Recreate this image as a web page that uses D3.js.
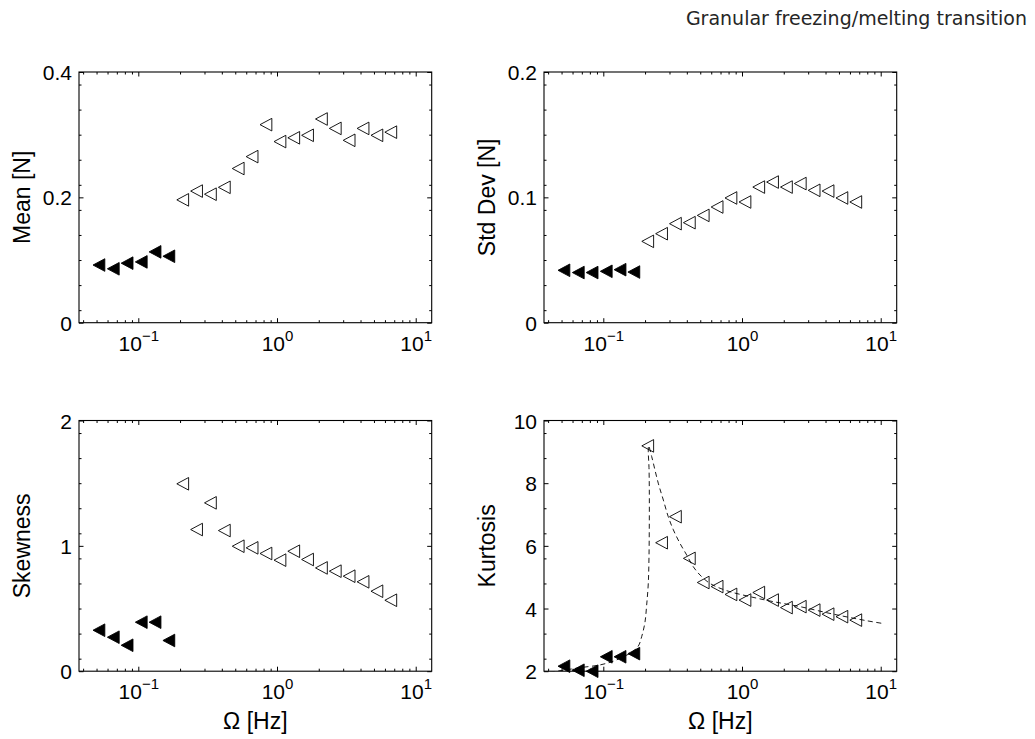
<!DOCTYPE html>
<html>
<head>
<meta charset="utf-8">
<script src="https://cdn.jsdelivr.net/npm/d3@7"></script>
<style>
body { margin: 0; background: #fff; }
text { font-family: "Liberation Sans", Arial, Helvetica, sans-serif; fill: #000; }
</style>
</head>
<body>
<svg id="chart" width="1035" height="739"></svg>
<script>
// driving frequency (Hz), first frozenCount points are the "frozen" (filled) ones
var freq = [0.052, 0.066, 0.083, 0.105, 0.132, 0.166, 0.209, 0.263, 0.331, 0.417, 0.525,
            0.661, 0.832, 1.05, 1.32, 1.66, 2.09, 2.63, 3.31, 4.17, 5.25, 6.61];
var frozenCount = 6;

var meanN = [0.092, 0.086, 0.095, 0.097, 0.113, 0.106, 0.196, 0.210, 0.205, 0.216, 0.246,
             0.265, 0.316, 0.289, 0.295, 0.299, 0.325, 0.310, 0.291, 0.310, 0.299, 0.304];
var stdN = [0.0418, 0.0400, 0.0400, 0.0410, 0.0423, 0.0404, 0.0649, 0.0710, 0.0790, 0.0798, 0.0856,
            0.0923, 0.0995, 0.0963, 0.1082, 0.1122, 0.1082, 0.1110, 0.1056, 0.1050, 0.0995, 0.0963];
var skew = [0.327, 0.271, 0.207, 0.391, 0.391, 0.245, 1.495, 1.130, 1.343, 1.122, 0.997,
            0.984, 0.939, 0.886, 0.957, 0.891, 0.824, 0.798, 0.758, 0.713, 0.638, 0.566];
var kurt = [2.16, 2.03, 2.00, 2.46, 2.46, 2.56, 9.19, 6.10, 6.93, 5.60, 4.83,
            4.70, 4.45, 4.27, 4.51, 4.27, 4.03, 4.06, 3.95, 3.82, 3.74, 3.63];

// dashed fit through the kurtosis points
var fitFreq = [0.0412, 0.055, 0.07, 0.0946, 0.12, 0.139, 0.16, 0.1787, 0.189, 0.1995, 0.2053,
               0.211, 0.2135, 0.2146, 0.2146, 0.2135, 0.211, 0.212, 0.2232, 0.249, 0.271, 0.294,
               0.32, 0.357, 0.399, 0.446, 0.498, 0.588, 0.775, 1.14, 1.68, 2.62, 4.56, 7.93, 10.45];
var fitKurt = [1.97, 2.05, 2.12, 2.20, 2.33, 2.46, 2.60, 2.80, 3.10, 3.55, 4.10,
               4.80, 5.65, 6.70, 7.80, 8.50, 9.00, 9.20, 8.85, 8.00, 7.46, 6.93,
               6.51, 6.08, 5.71, 5.33, 5.07, 4.80, 4.57, 4.38, 4.22, 4.06, 3.82, 3.61, 3.52];

var xMajor = [0.1, 1, 10];
var xExp = ["\u22121", "0", "1"];
var xMinor = [0.04, 0.05, 0.06, 0.07, 0.08, 0.09, 0.2, 0.3, 0.4, 0.5, 0.6, 0.7, 0.8, 0.9,
              2, 3, 4, 5, 6, 7, 8, 9];

var panels = [
    {values: meanN, domain: [0, 0.4], ticks: [0, 0.2, 0.4], label: "Mean [N]", left: 79, top: 72, xlabel: false},
    {values: stdN, domain: [0, 0.2], ticks: [0, 0.1, 0.2], label: "Std Dev [N]", left: 544, top: 72, xlabel: false},
    {values: skew, domain: [0, 2], ticks: [0, 1, 2], label: "Skewness", left: 79, top: 420.5, xlabel: true},
    {values: kurt, domain: [2, 10], ticks: [2, 4, 6, 8, 10], label: "Kurtosis", left: 544, top: 420.5, xlabel: true, fit: true}
];

var width = 352.7, height = 250.7;
var svg = d3.select("#chart");

var marker = "M-5.9,0L5.9,-6.3L5.9,6.3Z";

svg.append("text")
    .attr("x", 1027)
    .attr("y", 25)
    .attr("text-anchor", "end")
    .style("font-family", "'DejaVu Sans', sans-serif")
    .style("font-size", "19px")
    .style("fill", "#262626")
    .text("Granular freezing/melting transition");

panels.forEach(function (p, idx) {
    var g = svg.append("g").attr("transform", "translate(" + p.left + "," + p.top + ")");

    var x = d3.scaleLog().domain([0.03736, 13.04]).range([0, width]);
    var y = d3.scaleLinear().domain(p.domain).range([height, 0]);

    // minor y ticks at mid-steps of a tenth of the range
    var span = p.domain[1] - p.domain[0];
    var yMinor = [];
    for (var k = 0; k < 10; k ++) {
        var v = p.domain[0] + span * (0.05 + 0.1 * k);
        var hit = p.ticks.some(function (t) { return Math.abs(t - v) < span * 0.01; });
        if (!hit) yMinor.push(v);
    }

    // bottom / top axes (ticks pointing in)
    var bottom = g.append("g").attr("transform", "translate(0," + height + ")")
        .call(d3.axisBottom(x).tickValues(xMajor).tickSize(-4.5).tickSizeOuter(0));
    g.append("g").attr("transform", "translate(0," + height + ")")
        .call(d3.axisBottom(x).tickValues(xMinor).tickSize(-2.5).tickSizeOuter(0).tickFormat(""));
    g.append("g")
        .call(d3.axisTop(x).tickValues(xMajor).tickSize(-4.5).tickSizeOuter(0).tickFormat(""));
    g.append("g")
        .call(d3.axisTop(x).tickValues(xMinor).tickSize(-2.5).tickSizeOuter(0).tickFormat(""));

    bottom.selectAll(".tick text").each(function (d, i) {
        var t = d3.select(this);
        t.text(null)
            .attr("y", 28)
            .attr("dy", null)
            .attr("text-anchor", "middle")
            .style("font-size", "21px");
        t.append("tspan").text("10");
        t.append("tspan").attr("dy", -10).style("font-size", "15px").text(xExp[i]);
    });

    // left / right axes
    var left = g.append("g")
        .call(d3.axisLeft(y).tickValues(p.ticks).tickSize(-4.5).tickSizeOuter(0)
            .tickFormat(function (d) { return String(d); }));
    left.selectAll(".tick text")
        .attr("x", -7)
        .attr("dy", "0.36em")
        .style("font-size", "21px");
    g.append("g")
        .call(d3.axisLeft(y).tickValues(yMinor).tickSize(-2.5).tickSizeOuter(0).tickFormat(""));
    g.append("g").attr("transform", "translate(" + width + ",0)")
        .call(d3.axisRight(y).tickValues(p.ticks).tickSize(-4.5).tickSizeOuter(0).tickFormat(""));
    g.append("g").attr("transform", "translate(" + width + ",0)")
        .call(d3.axisRight(y).tickValues(yMinor).tickSize(-2.5).tickSizeOuter(0).tickFormat(""));

    g.selectAll(".domain").remove();
    g.selectAll(".tick line").attr("stroke", "#000").attr("stroke-width", 1);

    g.append("rect")
        .attr("width", width)
        .attr("height", height)
        .attr("fill", "none")
        .attr("stroke", "#000")
        .attr("stroke-width", 1.1);

    if (p.fit) {
        g.append("clipPath").attr("id", "clip" + idx)
            .append("rect").attr("width", width).attr("height", height);
        var line = d3.line()
            .x(function (d, i) { return x(fitFreq[i]); })
            .y(function (d) { return y(d); })
            .curve(d3.curveCatmullRom.alpha(0.5));
        g.append("path")
            .attr("clip-path", "url(#clip" + idx + ")")
            .attr("d", line(fitKurt))
            .attr("fill", "none")
            .attr("stroke", "#000")
            .attr("stroke-width", 0.9)
            .attr("stroke-dasharray", "5,3.5");
    }

    g.selectAll("path.pt")
        .data(p.values)
        .enter()
        .append("path")
        .attr("class", "pt")
        .attr("d", marker)
        .attr("transform", function (d, i) { return "translate(" + x(freq[i]) + "," + y(d) + ")"; })
        .attr("fill", function (d, i) { return i < frozenCount ? "#000" : "none"; })
        .attr("stroke", "#000")
        .attr("stroke-width", 0.9);

    svg.append("text")
        .attr("transform", "translate(" + (p.left - 49) + "," + (p.top + height / 2) + ") rotate(-90)")
        .attr("text-anchor", "middle")
        .style("font-size", "23px")
        .text(p.label);

    if (p.xlabel) {
        svg.append("text")
            .attr("x", p.left + width / 2)
            .attr("y", 729)
            .attr("text-anchor", "middle")
            .style("font-size", "23px")
            .text("\u03A9 [Hz]");
    }
});
</script>
</body>
</html>
